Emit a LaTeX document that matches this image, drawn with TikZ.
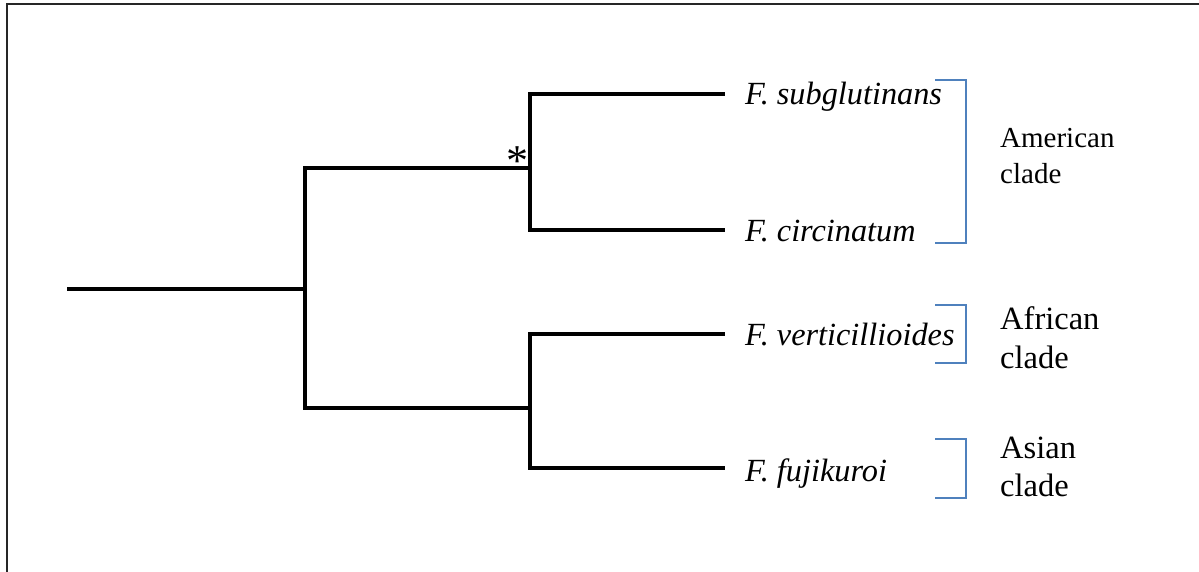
\documentclass[tikz,border=0pt]{standalone}
\usepackage{fontspec}
\setmainfont{Liberation Serif}
\newfontfamily\timesfont{Liberation Serif}
\definecolor{cladeblue}{HTML}{4F81BD}
\begin{document}
\begin{tikzpicture}[x=1pt,y=-1pt,
  branch/.style={line width=4pt,line join=miter,black},
  cladebracket/.style={line width=1.6pt,cladeblue,line join=miter},
  frameline/.style={line width=2pt,black!85},
  taxon/.style={anchor=base west,inner sep=0pt,font=\timesfont\fontsize{32.3}{36}\selectfont\itshape},
  cladename/.style={anchor=base west,inner sep=0pt,align=left}]
\useasboundingbox (0,0) rectangle (1199,571);
% outer frame (left and top edges)
\draw[frameline] (7,575) -- (7,4) -- (1205,4);

% tree nodes
\coordinate (root) at (67,289);
\coordinate (n1) at (305,289);
\coordinate (nA) at (530,168);
\coordinate (nB) at (530,408);
\coordinate (l1) at (725,94);
\coordinate (l2) at (725,230);
\coordinate (l3) at (725,334);
\coordinate (l4) at (725,468);

% branches
\draw[branch] (root) -- (n1);
\draw[branch] (n1) |- (nA);
\draw[branch] (n1) |- (nB);
\draw[branch] (nA) |- (l1);
\draw[branch] (nA) |- (l2);
\draw[branch] (nB) |- (l3);
\draw[branch] (nB) |- (l4);

% support mark
\node[inner sep=0pt,font=\timesfont\fontsize{44}{44}\selectfont] (star) at (517,161) {*};

% taxa
\node[taxon] (sub) at (745,104) {F. subglutinans};
\node[taxon] (cir) at (745,241) {F. circinatum};
\node[taxon] (ver) at (745,345) {F. verticillioides};
\node[taxon] (fuj) at (745,481) {F. fujikuroi};

% clade brackets
\draw[cladebracket] (935,80) -| (966,243) -- (935,243);
\draw[cladebracket] (935,305) -| (966,363) -- (935,363);
\draw[cladebracket] (935,439) -| (966,498) -- (935,498);

% clade names (base anchor sits on the last line)
\node[cladename,font=\timesfont\fontsize{29}{36}\selectfont] (am) at (1000,183) {American\\clade};
\node[cladename,font=\timesfont\fontsize{32.5}{39}\selectfont] (af) at (1000,368) {African\\clade};
\node[cladename,font=\timesfont\fontsize{32.5}{38}\selectfont] (as) at (1000,496) {Asian\\clade};
\end{tikzpicture}
\end{document}
